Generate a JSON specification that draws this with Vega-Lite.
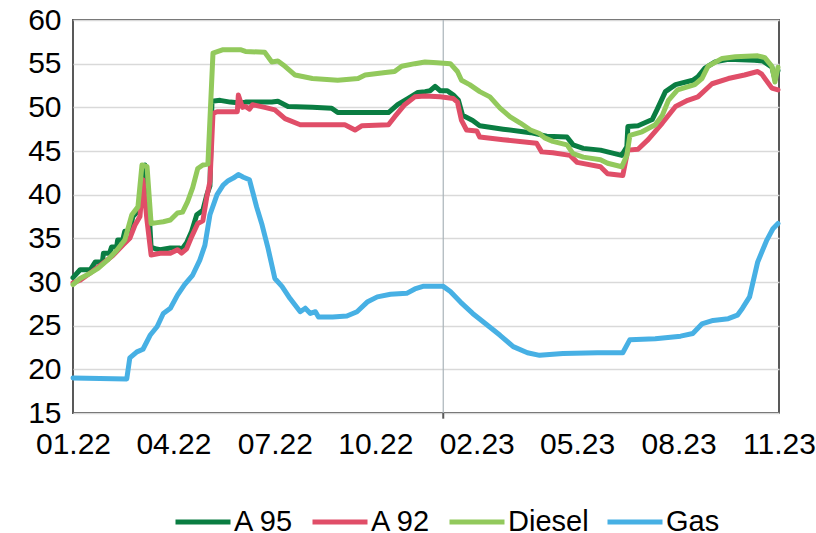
{
  "$schema": "https://vega.github.io/schema/vega-lite/v6.json",
  "width": 706,
  "height": 393,
  "autosize": "none",
  "padding": {"left": 73, "top": 20, "right": 37, "bottom": 120},
  "background": "white",
  "config": {
    "view": {"stroke": "#595959", "strokeWidth": 2},
    "font": "Liberation Sans"
  },
  "datasets": {
    "prices": [
      {"d":"2022-01-01","s":"A 95","v":30.5},{"d":"2022-01-08","s":"A 95","v":31.4},{"d":"2022-01-18","s":"A 95","v":31.4},{"d":"2022-01-23","s":"A 95","v":32.3},{"d":"2022-01-30","s":"A 95","v":32.3},{"d":"2022-01-31","s":"A 95","v":33.3},{"d":"2022-02-06","s":"A 95","v":33.3},{"d":"2022-02-08","s":"A 95","v":34.0},{"d":"2022-02-13","s":"A 95","v":34.0},{"d":"2022-02-14","s":"A 95","v":34.8},{"d":"2022-02-19","s":"A 95","v":34.8},{"d":"2022-02-21","s":"A 95","v":35.8},{"d":"2022-02-26","s":"A 95","v":35.8},{"d":"2022-03-01","s":"A 95","v":37.5},{"d":"2022-03-06","s":"A 95","v":38.1},{"d":"2022-03-09","s":"A 95","v":40.5},{"d":"2022-03-13","s":"A 95","v":43.4},{"d":"2022-03-16","s":"A 95","v":40.0},{"d":"2022-03-19","s":"A 95","v":34.0},{"d":"2022-03-23","s":"A 95","v":33.8},{"d":"2022-03-28","s":"A 95","v":33.7},{"d":"2022-04-07","s":"A 95","v":33.9},{"d":"2022-04-16","s":"A 95","v":33.9},{"d":"2022-04-18","s":"A 95","v":33.7},{"d":"2022-04-23","s":"A 95","v":34.5},{"d":"2022-04-28","s":"A 95","v":35.8},{"d":"2022-05-03","s":"A 95","v":37.7},{"d":"2022-05-09","s":"A 95","v":38.2},{"d":"2022-05-13","s":"A 95","v":40.0},{"d":"2022-05-16","s":"A 95","v":41.0},{"d":"2022-05-18","s":"A 95","v":50.7},{"d":"2022-05-26","s":"A 95","v":50.8},{"d":"2022-06-05","s":"A 95","v":50.6},{"d":"2022-06-15","s":"A 95","v":50.5},{"d":"2022-06-20","s":"A 95","v":50.6},{"d":"2022-07-16","s":"A 95","v":50.6},{"d":"2022-07-22","s":"A 95","v":50.7},{"d":"2022-08-01","s":"A 95","v":50.1},{"d":"2022-08-25","s":"A 95","v":50.0},{"d":"2022-09-13","s":"A 95","v":49.9},{"d":"2022-09-19","s":"A 95","v":49.4},{"d":"2022-11-08","s":"A 95","v":49.4},{"d":"2022-11-17","s":"A 95","v":50.3},{"d":"2022-11-27","s":"A 95","v":51.0},{"d":"2022-12-07","s":"A 95","v":51.7},{"d":"2022-12-14","s":"A 95","v":51.8},{"d":"2022-12-19","s":"A 95","v":51.9},{"d":"2022-12-24","s":"A 95","v":52.4},{"d":"2022-12-29","s":"A 95","v":51.9},{"d":"2023-01-05","s":"A 95","v":51.9},{"d":"2023-01-11","s":"A 95","v":51.4},{"d":"2023-01-16","s":"A 95","v":50.8},{"d":"2023-01-20","s":"A 95","v":49.1},{"d":"2023-01-30","s":"A 95","v":48.5},{"d":"2023-02-06","s":"A 95","v":47.9},{"d":"2023-03-01","s":"A 95","v":47.5},{"d":"2023-03-28","s":"A 95","v":47.1},{"d":"2023-04-13","s":"A 95","v":46.7},{"d":"2023-05-03","s":"A 95","v":46.6},{"d":"2023-05-09","s":"A 95","v":45.7},{"d":"2023-05-19","s":"A 95","v":45.3},{"d":"2023-06-05","s":"A 95","v":45.1},{"d":"2023-06-12","s":"A 95","v":44.9},{"d":"2023-06-26","s":"A 95","v":44.5},{"d":"2023-07-01","s":"A 95","v":45.5},{"d":"2023-07-02","s":"A 95","v":47.8},{"d":"2023-07-12","s":"A 95","v":47.9},{"d":"2023-07-26","s":"A 95","v":48.6},{"d":"2023-07-31","s":"A 95","v":49.8},{"d":"2023-08-08","s":"A 95","v":51.8},{"d":"2023-08-18","s":"A 95","v":52.6},{"d":"2023-09-04","s":"A 95","v":53.1},{"d":"2023-09-09","s":"A 95","v":53.5},{"d":"2023-09-16","s":"A 95","v":54.5},{"d":"2023-09-26","s":"A 95","v":55.2},{"d":"2023-10-09","s":"A 95","v":55.5},{"d":"2023-11-04","s":"A 95","v":55.4},{"d":"2023-11-12","s":"A 95","v":55.3},{"d":"2023-11-21","s":"A 95","v":54.6},{"d":"2023-11-24","s":"A 95","v":53.2},{"d":"2023-11-27","s":"A 95","v":54.2},
      {"d":"2022-01-01","s":"A 92","v":29.9},{"d":"2022-01-08","s":"A 92","v":30.2},{"d":"2022-01-20","s":"A 92","v":31.2},{"d":"2022-01-30","s":"A 92","v":32.1},{"d":"2022-02-09","s":"A 92","v":33.0},{"d":"2022-02-19","s":"A 92","v":34.2},{"d":"2022-02-26","s":"A 92","v":35.0},{"d":"2022-03-03","s":"A 92","v":36.5},{"d":"2022-03-08","s":"A 92","v":37.5},{"d":"2022-03-11","s":"A 92","v":41.7},{"d":"2022-03-15","s":"A 92","v":37.0},{"d":"2022-03-19","s":"A 92","v":33.1},{"d":"2022-03-28","s":"A 92","v":33.3},{"d":"2022-04-07","s":"A 92","v":33.3},{"d":"2022-04-14","s":"A 92","v":33.7},{"d":"2022-04-18","s":"A 92","v":33.3},{"d":"2022-04-23","s":"A 92","v":33.8},{"d":"2022-04-28","s":"A 92","v":35.2},{"d":"2022-05-04","s":"A 92","v":36.7},{"d":"2022-05-09","s":"A 92","v":37.0},{"d":"2022-05-13","s":"A 92","v":39.8},{"d":"2022-05-16","s":"A 92","v":41.5},{"d":"2022-05-19","s":"A 92","v":49.3},{"d":"2022-05-23","s":"A 92","v":49.5},{"d":"2022-06-12","s":"A 92","v":49.5},{"d":"2022-06-13","s":"A 92","v":51.4},{"d":"2022-06-17","s":"A 92","v":50.0},{"d":"2022-06-20","s":"A 92","v":50.1},{"d":"2022-06-24","s":"A 92","v":49.8},{"d":"2022-06-27","s":"A 92","v":50.3},{"d":"2022-07-09","s":"A 92","v":50.0},{"d":"2022-07-19","s":"A 92","v":49.7},{"d":"2022-07-29","s":"A 92","v":48.7},{"d":"2022-08-13","s":"A 92","v":48.0},{"d":"2022-09-26","s":"A 92","v":48.0},{"d":"2022-10-06","s":"A 92","v":47.4},{"d":"2022-10-13","s":"A 92","v":47.9},{"d":"2022-11-08","s":"A 92","v":48.0},{"d":"2022-11-14","s":"A 92","v":48.9},{"d":"2022-11-24","s":"A 92","v":50.3},{"d":"2022-12-04","s":"A 92","v":51.2},{"d":"2022-12-14","s":"A 92","v":51.3},{"d":"2022-12-29","s":"A 92","v":51.2},{"d":"2023-01-11","s":"A 92","v":51.0},{"d":"2023-01-15","s":"A 92","v":50.6},{"d":"2023-01-19","s":"A 92","v":48.5},{"d":"2023-01-24","s":"A 92","v":47.4},{"d":"2023-02-03","s":"A 92","v":47.3},{"d":"2023-02-06","s":"A 92","v":46.6},{"d":"2023-03-01","s":"A 92","v":46.3},{"d":"2023-04-03","s":"A 92","v":45.9},{"d":"2023-04-08","s":"A 92","v":44.9},{"d":"2023-04-19","s":"A 92","v":44.8},{"d":"2023-05-06","s":"A 92","v":44.5},{"d":"2023-05-13","s":"A 92","v":43.7},{"d":"2023-06-05","s":"A 92","v":43.2},{"d":"2023-06-12","s":"A 92","v":42.4},{"d":"2023-06-27","s":"A 92","v":42.2},{"d":"2023-07-02","s":"A 92","v":45.1},{"d":"2023-07-12","s":"A 92","v":45.2},{"d":"2023-07-22","s":"A 92","v":46.3},{"d":"2023-08-05","s":"A 92","v":48.2},{"d":"2023-08-18","s":"A 92","v":50.1},{"d":"2023-08-30","s":"A 92","v":50.8},{"d":"2023-09-09","s":"A 92","v":51.2},{"d":"2023-09-23","s":"A 92","v":52.7},{"d":"2023-10-09","s":"A 92","v":53.3},{"d":"2023-10-25","s":"A 92","v":53.7},{"d":"2023-11-07","s":"A 92","v":54.1},{"d":"2023-11-11","s":"A 92","v":53.8},{"d":"2023-11-21","s":"A 92","v":52.2},{"d":"2023-11-27","s":"A 92","v":52.0},
      {"d":"2022-01-01","s":"Diesel","v":29.7},{"d":"2022-01-08","s":"Diesel","v":30.4},{"d":"2022-01-18","s":"Diesel","v":31.0},{"d":"2022-01-26","s":"Diesel","v":31.6},{"d":"2022-02-04","s":"Diesel","v":32.5},{"d":"2022-02-13","s":"Diesel","v":33.6},{"d":"2022-02-21","s":"Diesel","v":34.8},{"d":"2022-02-28","s":"Diesel","v":37.7},{"d":"2022-03-06","s":"Diesel","v":38.6},{"d":"2022-03-10","s":"Diesel","v":43.4},{"d":"2022-03-15","s":"Diesel","v":43.2},{"d":"2022-03-19","s":"Diesel","v":36.7},{"d":"2022-03-25","s":"Diesel","v":36.8},{"d":"2022-03-31","s":"Diesel","v":36.9},{"d":"2022-04-07","s":"Diesel","v":37.1},{"d":"2022-04-14","s":"Diesel","v":37.9},{"d":"2022-04-19","s":"Diesel","v":38.0},{"d":"2022-04-24","s":"Diesel","v":39.2},{"d":"2022-04-29","s":"Diesel","v":40.8},{"d":"2022-05-04","s":"Diesel","v":43.0},{"d":"2022-05-09","s":"Diesel","v":43.4},{"d":"2022-05-14","s":"Diesel","v":43.5},{"d":"2022-05-19","s":"Diesel","v":56.2},{"d":"2022-05-29","s":"Diesel","v":56.6},{"d":"2022-06-15","s":"Diesel","v":56.6},{"d":"2022-06-20","s":"Diesel","v":56.4},{"d":"2022-07-09","s":"Diesel","v":56.3},{"d":"2022-07-16","s":"Diesel","v":55.2},{"d":"2022-07-22","s":"Diesel","v":55.3},{"d":"2022-07-29","s":"Diesel","v":54.7},{"d":"2022-08-08","s":"Diesel","v":53.7},{"d":"2022-08-25","s":"Diesel","v":53.3},{"d":"2022-09-19","s":"Diesel","v":53.1},{"d":"2022-10-09","s":"Diesel","v":53.3},{"d":"2022-10-16","s":"Diesel","v":53.7},{"d":"2022-11-05","s":"Diesel","v":54.0},{"d":"2022-11-14","s":"Diesel","v":54.1},{"d":"2022-11-21","s":"Diesel","v":54.7},{"d":"2022-12-04","s":"Diesel","v":55.0},{"d":"2022-12-14","s":"Diesel","v":55.2},{"d":"2022-12-26","s":"Diesel","v":55.1},{"d":"2023-01-08","s":"Diesel","v":55.0},{"d":"2023-01-15","s":"Diesel","v":54.1},{"d":"2023-01-19","s":"Diesel","v":53.1},{"d":"2023-01-27","s":"Diesel","v":52.6},{"d":"2023-02-06","s":"Diesel","v":51.8},{"d":"2023-02-16","s":"Diesel","v":51.2},{"d":"2023-02-26","s":"Diesel","v":49.9},{"d":"2023-03-08","s":"Diesel","v":48.9},{"d":"2023-03-18","s":"Diesel","v":48.2},{"d":"2023-03-28","s":"Diesel","v":47.4},{"d":"2023-04-06","s":"Diesel","v":47.0},{"d":"2023-04-11","s":"Diesel","v":46.5},{"d":"2023-04-19","s":"Diesel","v":46.1},{"d":"2023-05-03","s":"Diesel","v":45.7},{"d":"2023-05-09","s":"Diesel","v":44.7},{"d":"2023-05-19","s":"Diesel","v":44.3},{"d":"2023-06-05","s":"Diesel","v":44.0},{"d":"2023-06-12","s":"Diesel","v":43.6},{"d":"2023-06-26","s":"Diesel","v":43.2},{"d":"2023-07-01","s":"Diesel","v":44.5},{"d":"2023-07-04","s":"Diesel","v":46.8},{"d":"2023-07-16","s":"Diesel","v":47.2},{"d":"2023-07-29","s":"Diesel","v":48.0},{"d":"2023-08-05","s":"Diesel","v":49.1},{"d":"2023-08-11","s":"Diesel","v":50.8},{"d":"2023-08-20","s":"Diesel","v":52.0},{"d":"2023-09-06","s":"Diesel","v":52.6},{"d":"2023-09-13","s":"Diesel","v":53.3},{"d":"2023-09-19","s":"Diesel","v":54.7},{"d":"2023-10-03","s":"Diesel","v":55.6},{"d":"2023-10-16","s":"Diesel","v":55.8},{"d":"2023-11-07","s":"Diesel","v":55.9},{"d":"2023-11-14","s":"Diesel","v":55.7},{"d":"2023-11-21","s":"Diesel","v":54.7},{"d":"2023-11-24","s":"Diesel","v":52.9},{"d":"2023-11-27","s":"Diesel","v":54.6},
      {"d":"2022-01-01","s":"Gas","v":19.0},{"d":"2022-02-23","s":"Gas","v":18.9},{"d":"2022-02-26","s":"Gas","v":21.3},{"d":"2022-03-05","s":"Gas","v":22.0},{"d":"2022-03-11","s":"Gas","v":22.3},{"d":"2022-03-18","s":"Gas","v":23.9},{"d":"2022-03-25","s":"Gas","v":24.9},{"d":"2022-03-31","s":"Gas","v":26.4},{"d":"2022-04-07","s":"Gas","v":27.0},{"d":"2022-04-14","s":"Gas","v":28.5},{"d":"2022-04-21","s":"Gas","v":29.7},{"d":"2022-04-29","s":"Gas","v":30.8},{"d":"2022-05-06","s":"Gas","v":32.5},{"d":"2022-05-11","s":"Gas","v":34.2},{"d":"2022-05-16","s":"Gas","v":37.7},{"d":"2022-05-23","s":"Gas","v":40.0},{"d":"2022-05-29","s":"Gas","v":41.1},{"d":"2022-06-03","s":"Gas","v":41.6},{"d":"2022-06-08","s":"Gas","v":41.9},{"d":"2022-06-13","s":"Gas","v":42.3},{"d":"2022-06-18","s":"Gas","v":42.0},{"d":"2022-06-24","s":"Gas","v":41.7},{"d":"2022-07-01","s":"Gas","v":38.6},{"d":"2022-07-06","s":"Gas","v":36.7},{"d":"2022-07-12","s":"Gas","v":34.0},{"d":"2022-07-19","s":"Gas","v":30.4},{"d":"2022-07-26","s":"Gas","v":29.5},{"d":"2022-08-03","s":"Gas","v":28.1},{"d":"2022-08-13","s":"Gas","v":26.6},{"d":"2022-08-18","s":"Gas","v":27.0},{"d":"2022-08-23","s":"Gas","v":26.4},{"d":"2022-08-28","s":"Gas","v":26.6},{"d":"2022-08-31","s":"Gas","v":26.0},{"d":"2022-09-14","s":"Gas","v":26.0},{"d":"2022-09-28","s":"Gas","v":26.1},{"d":"2022-10-08","s":"Gas","v":26.6},{"d":"2022-10-18","s":"Gas","v":27.7},{"d":"2022-10-28","s":"Gas","v":28.3},{"d":"2022-11-10","s":"Gas","v":28.6},{"d":"2022-11-26","s":"Gas","v":28.7},{"d":"2022-12-04","s":"Gas","v":29.2},{"d":"2022-12-12","s":"Gas","v":29.5},{"d":"2023-01-01","s":"Gas","v":29.5},{"d":"2023-01-08","s":"Gas","v":28.9},{"d":"2023-01-18","s":"Gas","v":27.7},{"d":"2023-01-30","s":"Gas","v":26.4},{"d":"2023-02-13","s":"Gas","v":25.1},{"d":"2023-02-26","s":"Gas","v":23.9},{"d":"2023-03-11","s":"Gas","v":22.6},{"d":"2023-03-25","s":"Gas","v":21.9},{"d":"2023-04-06","s":"Gas","v":21.6},{"d":"2023-04-29","s":"Gas","v":21.8},{"d":"2023-06-02","s":"Gas","v":21.9},{"d":"2023-06-27","s":"Gas","v":21.9},{"d":"2023-07-04","s":"Gas","v":23.4},{"d":"2023-07-29","s":"Gas","v":23.5},{"d":"2023-08-23","s":"Gas","v":23.8},{"d":"2023-09-04","s":"Gas","v":24.1},{"d":"2023-09-13","s":"Gas","v":25.2},{"d":"2023-09-24","s":"Gas","v":25.6},{"d":"2023-10-09","s":"Gas","v":25.8},{"d":"2023-10-18","s":"Gas","v":26.2},{"d":"2023-10-23","s":"Gas","v":27.0},{"d":"2023-10-30","s":"Gas","v":28.3},{"d":"2023-11-07","s":"Gas","v":32.3},{"d":"2023-11-16","s":"Gas","v":34.8},{"d":"2023-11-22","s":"Gas","v":36.1},{"d":"2023-11-27","s":"Gas","v":36.7}
    ],
    "yearline": [{"d": "2023-01-01"}]
  },
  "encoding": {
    "x": {
      "field": "d",
      "type": "temporal",
      "scale": {
        "type": "utc",
        "domain": [
          {"year": 2022, "month": 1, "date": 1, "utc": true},
          {"year": 2023, "month": 11, "date": 28, "utc": true}
        ]
      },
      "axis": {
        "title": null,
        "labelExpr": "utcFormat(datum.value, '%m.%y')",
        "values": [
          {"year": 2022, "month": 1, "date": 1, "utc": true},
          {"year": 2022, "month": 4, "date": 10, "utc": true},
          {"year": 2022, "month": 7, "date": 19, "utc": true},
          {"year": 2022, "month": 10, "date": 26, "utc": true},
          {"year": 2023, "month": 2, "date": 3, "utc": true},
          {"year": 2023, "month": 5, "date": 13, "utc": true},
          {"year": 2023, "month": 8, "date": 21, "utc": true},
          {"year": 2023, "month": 11, "date": 28, "utc": true}
        ],
        "grid": false,
        "ticks": false,
        "domain": false,
        "labelFontSize": 30,
        "labelColor": "#000000",
        "labelPadding": 16,
        "labelFlush": false,
        "labelOverlap": false
      }
    }
  },
  "layer": [
    {
      "data": {"name": "yearline"},
      "mark": {"type": "rule", "color": "#aab3ba", "strokeWidth": 1.2},
      "encoding": {}
    },
    {
      "data": {"name": "yearline"},
      "mark": {"type": "rule", "color": "#595959", "strokeWidth": 2},
      "encoding": {
        "y": {"datum": 15, "type": "quantitative"},
        "y2": {"datum": 14.35}
      }
    },
    {
      "data": {"name": "prices"},
      "mark": {"type": "line", "strokeWidth": 5, "strokeCap": "round", "strokeJoin": "round"},
      "encoding": {
        "y": {
          "field": "v",
          "type": "quantitative",
          "scale": {"domain": [15, 60], "nice": false, "zero": false},
          "axis": {
            "title": null,
            "values": [15, 20, 25, 30, 35, 40, 45, 50, 55, 60],
            "grid": true,
            "gridColor": "#d9d9d9",
            "gridWidth": 1.3,
            "ticks": false,
            "domain": false,
            "labelFontSize": 30,
            "labelColor": "#000000",
            "labelPadding": 12
          }
        },
        "color": {
          "field": "s",
          "type": "nominal",
          "scale": {
            "domain": ["A 95", "A 92", "Diesel", "Gas"],
            "range": ["#0a7d42", "#e04e68", "#92c95c", "#47b0e4"]
          },
          "legend": {
            "title": null,
            "orient": "none",
            "legendX": 100,
            "legendY": 472,
            "direction": "horizontal",
            "symbolType": "stroke",
            "symbolSize": 3025,
            "symbolStrokeWidth": 5,
            "labelFontSize": 29,
            "labelColor": "#000000",
            "labelOffset": 1,
            "columnPadding": 8
          }
        }
      }
    }
  ]
}
